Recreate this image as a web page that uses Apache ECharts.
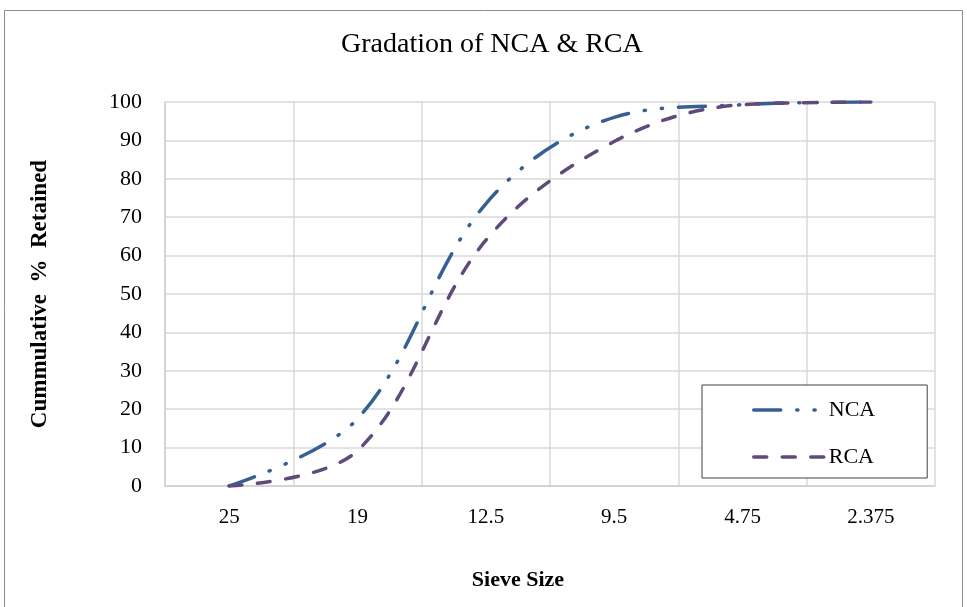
<!DOCTYPE html>
<html>
<head>
<meta charset="utf-8">
<script src="https://cdn.jsdelivr.net/npm/echarts@6/dist/echarts.min.js"></script>
<style>
html,body{margin:0;padding:0;background:#fff;}
#chart{width:967px;height:607px;}
</style>
</head>
<body>
<div id="chart"></div>
<script>
const sieveSizes = ['25', '19', '12.5', '9.5', '4.75', '2.375'];
const ncaValues = [0, 17.5, 73.5, 96, 99.3, 100];
const rcaValues = [0, 9.2, 64, 89.7, 99.3, 100];
const yTicks = { min: 0, max: 100, interval: 10 };

const FONT = '"Liberation Serif", "Times New Roman", serif';
const NCA_COLOR = '#376092';
const RCA_COLOR = '#604A7B';
const NCA_DASH = [27, 16, 1.2, 16, 1.2, 16];
const RCA_DASH = [13, 15.5];

const chart = echarts.init(document.getElementById('chart'), null, { renderer: 'canvas' });
chart.setOption({
  animation: false,
  backgroundColor: '#ffffff',
  graphic: [{
    type: 'rect',
    shape: { x: 4.5, y: 10.5, width: 958, height: 620 },
    style: { fill: 'none', stroke: '#8c8c8c', lineWidth: 1 },
    silent: true, z: -10
  }],
  title: {
    text: 'Gradation of NCA & RCA',
    left: 341,
    top: 31,
    padding: 0,
    textStyle: { fontFamily: FONT, fontSize: 28, fontWeight: 'normal', color: '#000' }
  },
  legend: {
    orient: 'vertical',
    left: 702,
    top: 385,
    padding: [14, 52, 10, 50],
    itemGap: 25,
    itemWidth: 70,
    itemHeight: 14,
    backgroundColor: '#ffffff',
    borderColor: '#404040',
    borderWidth: 1,
    borderRadius: 0,
    itemStyle: { opacity: 0 },
    textStyle: { fontFamily: FONT, fontSize: 22, color: '#000' },
    data: [
      { name: 'NCA', lineStyle: { width: 3.5, type: NCA_DASH, cap: 'round', color: NCA_COLOR } },
      { name: 'RCA', lineStyle: { width: 3.5, type: RCA_DASH, cap: 'round', color: RCA_COLOR } }
    ]
  },
  grid: { left: 165, right: 32, top: 102, bottom: 121, containLabel: false },
  xAxis: {
    type: 'category',
    data: sieveSizes,
    boundaryGap: true,
    name: 'Sieve Size',
    nameLocation: 'middle',
    nameGap: 83,
    nameTextStyle: { fontFamily: FONT, fontSize: 22, fontWeight: 'bold', color: '#000', padding: [0, 64, 0, 0] },
    axisLine: { show: true, lineStyle: { color: '#d0d0d0', width: 1.5 } },
    axisTick: { show: false },
    axisLabel: { fontFamily: FONT, fontSize: 21, color: '#000', margin: 21 },
    splitLine: { show: true, lineStyle: { color: '#d9d9d9', width: 1.5 } }
  },
  yAxis: {
    type: 'value',
    min: yTicks.min,
    max: yTicks.max,
    interval: yTicks.interval,
    name: 'Cummulative  %  Retained',
    nameLocation: 'middle',
    nameRotate: 90,
    nameGap: 113,
    nameTextStyle: { fontFamily: FONT, fontSize: 23, fontWeight: 'bold', color: '#000' },
    axisLine: { show: true, lineStyle: { color: '#d0d0d0', width: 1.5 } },
    axisTick: { show: false },
    axisLabel: { fontFamily: FONT, fontSize: 22, color: '#000', margin: 23 },
    splitLine: { show: true, lineStyle: { color: '#d9d9d9', width: 1.5 } }
  },
  series: [
    {
      name: 'NCA',
      type: 'line',
      data: ncaValues,
      smooth: 0.35,
      symbol: 'none',
      lineStyle: { color: NCA_COLOR, width: 3.5, type: NCA_DASH, cap: 'round' },
      itemStyle: { color: NCA_COLOR }
    },
    {
      name: 'RCA',
      type: 'line',
      data: rcaValues,
      smooth: 0.35,
      symbol: 'none',
      lineStyle: { color: RCA_COLOR, width: 3.5, type: RCA_DASH, cap: 'round' },
      itemStyle: { color: RCA_COLOR }
    }
  ]
});
</script>
</body>
</html>
